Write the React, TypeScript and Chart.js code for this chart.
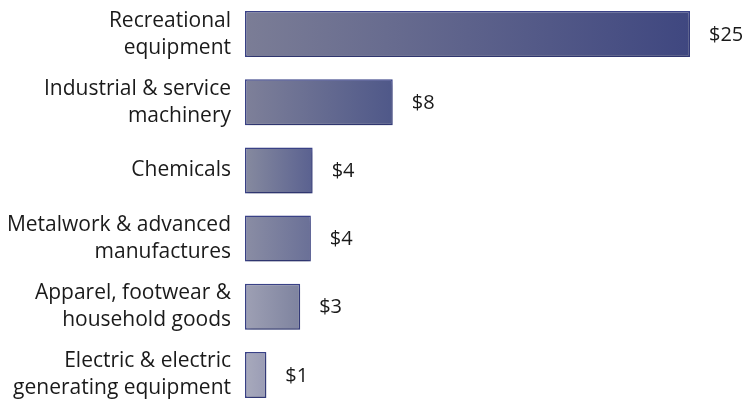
import React, { useEffect, useRef } from "react";
import { Chart, registerables } from "chart.js";

Chart.register(...registerables);

const CATEGORIES: string[][] = [
  ["Recreational", "equipment"],
  ["Industrial & service", "machinery"],
  ["Chemicals"],
  ["Metalwork & advanced", "manufactures"],
  ["Apparel, footwear &", "household goods"],
  ["Electric & electric", "generating equipment"],
];

const VALUES: number[] = [25, 8.3, 3.8, 3.7, 3.1, 1.2];

// style constants: gradient stops per bar (left, right)
const LEFT_COLORS = ["#7b7d96", "#7e8099", "#868a9f", "#8a8da4", "#9ea0b4", "#a8aabc"];
const RIGHT_COLORS = ["#3f4780", "#4f5889", "#5a6190", "#6a7097", "#7e839f", "#9a9cb5"];

const FONT = "'Open Sans', Lato, sans-serif";

export default function App() {
  const ref = useRef<HTMLCanvasElement | null>(null);

  useEffect(() => {
    if (!ref.current) return;

    const shadowPlugin = {
      id: "barShadow",
      beforeDatasetsDraw(chart: any) {
        const c = chart.ctx;
        c.save();
        c.shadowColor = "rgba(0,0,0,0.25)";
        c.shadowBlur = 5;
        c.shadowOffsetX = 1;
        c.shadowOffsetY = 3;
      },
      afterDatasetsDraw(chart: any) {
        chart.ctx.restore();
      },
    };

    const valueLabels = {
      id: "valueLabels",
      afterDatasetsDraw(chart: any) {
        const c = chart.ctx;
        const meta = chart.getDatasetMeta(0);
        c.save();
        c.font = `20px ${FONT}`;
        c.fillStyle = "#1a1a1a";
        c.textAlign = "left";
        c.textBaseline = "middle";
        meta.data.forEach((bar: any, i: number) => {
          const txt = "$" + Math.round(VALUES[i]);
          const w = c.measureText(txt).width;
          let x = bar.x + 19;
          const maxX = chart.width - 3 - w;
          if (x > maxX) x = maxX;
          c.fillText(txt, x, bar.y + 1);
        });
        c.restore();
      },
    };

    const chart = new Chart(ref.current, {
      type: "bar",
      data: {
        labels: CATEGORIES,
        datasets: [
          {
            data: VALUES,
            backgroundColor: (ctx: any) => {
              const ch = ctx.chart;
              const xs = ch.scales?.x;
              if (!xs || !ch.chartArea) return LEFT_COLORS[ctx.dataIndex];
              const i = ctx.dataIndex;
              const x0 = xs.getPixelForValue(0);
              const x1 = xs.getPixelForValue(VALUES[i]);
              const g = ch.ctx.createLinearGradient(x0, 0, x1, 0);
              g.addColorStop(0, LEFT_COLORS[i]);
              g.addColorStop(1, RIGHT_COLORS[i]);
              return g;
            },
            borderColor: "#3a4288",
            borderWidth: 1.5,
            borderSkipped: false,
            categoryPercentage: 1,
            barPercentage: 0.675,
          },
        ],
      },
      options: {
        indexAxis: "y",
        animation: false,
        responsive: false,
        maintainAspectRatio: false,
        layout: { padding: { top: 0, bottom: 0, left: 0, right: 57 } },
        plugins: {
          legend: { display: false },
          tooltip: { enabled: false },
        },
        scales: {
          x: {
            display: false,
            min: 0,
            max: 25,
          },
          y: {
            grid: { display: false, drawTicks: false },
            border: { display: false },
            afterFit: (scale: any) => {
              scale.width = 245;
              scale.paddingTop = 0;
              scale.paddingBottom = 0;
            },
            ticks: {
              color: "#1a1a1a",
              padding: 14,
              font: { family: FONT, size: 21, lineHeight: 1.29 },
            },
          },
        },
      },
      plugins: [shadowPlugin, valueLabels],
    });

    return () => chart.destroy();
  }, []);

  return (
    <div style={{ position: "fixed", left: 0, top: 0, width: 747, height: 409, background: "#fff" }}>
      <canvas ref={ref} width={747} height={409} style={{ width: 747, height: 409 }} />
    </div>
  );
}
